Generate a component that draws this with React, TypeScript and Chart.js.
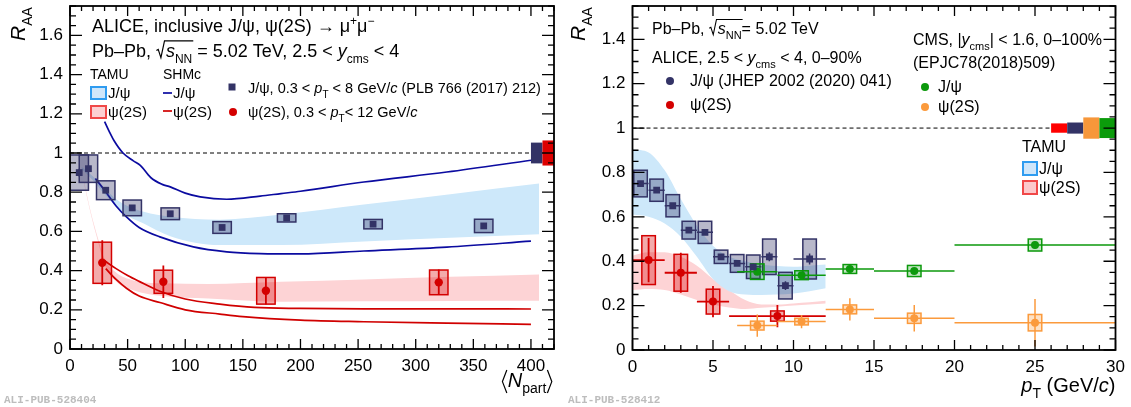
import { useEffect, useRef } from "react";
import { Chart, registerables } from "chart.js";

Chart.register(...registerables);

const FONT = '"Liberation Sans", Arial, Helvetica, sans-serif';
const MONO = '"Liberation Mono", "DejaVu Sans Mono", monospace';

// ================= Left panel: R_AA vs <N_part> =================
const npartTickLabels = [0, 50, 100, 150, 200, 250, 300, 350, 400];
const raaTickLabelsLeft = [0, 0.2, 0.4, 0.6, 0.8, 1, 1.2, 1.4, 1.6];

const jpsiNpart = [8, 16, 31, 54, 87, 132, 188, 263, 359];
const jpsiRaaNpart = [0.9, 0.92, 0.81, 0.72, 0.69, 0.62, 0.669, 0.637, 0.628];
const jpsiStatNpart = [0.02, 0.015, 0.012, 0.01, 0.01, 0.01, 0.008, 0.008, 0.008];
const jpsiSystNpart = [0.09, 0.07, 0.048, 0.04, 0.03, 0.03, 0.021, 0.024, 0.034];

const psiNpart = [28, 81, 170, 320];
const psiRaaNpart = [0.44, 0.343, 0.297, 0.34];
const psiStatNpart = [0.115, 0.083, 0.07, 0.065];
const psiSystNpart = [0.105, 0.059, 0.068, 0.063];

const shmJpsiHiNpart = [30, 34, 38, 46, 55, 61, 70, 80, 87, 100, 113, 136, 165, 183, 200, 255, 327, 400];
const shmJpsiHiRaa = [1.16, 1.11, 1.065, 1.0, 0.96, 0.937, 0.875, 0.84, 0.827, 0.795, 0.776, 0.764, 0.78, 0.793, 0.805, 0.852, 0.903, 0.963];
const shmJpsiLoNpart = [22, 30, 40, 49, 60, 78, 107, 136, 165, 200, 255, 327, 400];
const shmJpsiLoRaa = [0.87, 0.81, 0.73, 0.674, 0.62, 0.572, 0.521, 0.496, 0.487, 0.485, 0.5, 0.52, 0.55];
const shmPsiHiNpart = [30, 40, 50, 60, 78, 100, 130, 160, 200, 255, 327, 400];
const shmPsiHiRaa = [0.45, 0.41, 0.375, 0.345, 0.295, 0.255, 0.229, 0.212, 0.207, 0.205, 0.205, 0.204];
const shmPsiLoNpart = [31, 40, 49, 60, 78, 100, 130, 150, 200, 255, 327, 400];
const shmPsiLoRaa = [0.41, 0.355, 0.31, 0.27, 0.237, 0.2, 0.178, 0.165, 0.147, 0.139, 0.132, 0.126];

const tamuJpsiNpart = [10, 20, 30, 41, 50, 64, 87, 130, 183, 255, 330, 407];
const tamuJpsiHiNpart = [0.93, 0.88, 0.82, 0.76, 0.73, 0.7, 0.675, 0.66, 0.686, 0.737, 0.79, 0.844];
const tamuJpsiLoNpart = [0.92, 0.86, 0.79, 0.725, 0.68, 0.64, 0.575, 0.53, 0.53, 0.548, 0.567, 0.586];
const tamuPsiNpart = [12, 18, 24, 30, 40, 55, 80, 120, 183, 255, 330, 407];
const tamuPsiHiNpart = [0.86, 0.7, 0.57, 0.46, 0.39, 0.35, 0.335, 0.332, 0.343, 0.355, 0.368, 0.38];
const tamuPsiLoNpart = [0.85, 0.69, 0.555, 0.43, 0.345, 0.3, 0.27, 0.258, 0.241, 0.243, 0.245, 0.246];

const globalNpartLow = [400, 410];
const globalNpartHigh = [410, 420];
const globalUncNpart = [0.053, 0.064];

// ================= Right panel: R_AA vs pT =================
const ptTickLabels = [0, 5, 10, 15, 20, 25, 30];
const raaTickLabelsRight = [0, 0.2, 0.4, 0.6, 0.8, 1, 1.2, 1.4];

const aliJpsiPt = [0.5, 1.5, 2.5, 3.5, 4.5, 5.5, 6.5, 7.5, 8.5, 9.5, 11];
const aliJpsiPtLow = [0, 1, 2, 3, 4, 5, 6, 7, 8, 9, 10];
const aliJpsiPtHigh = [1, 2, 3, 4, 5, 6, 7, 8, 9, 10, 12];
const aliJpsiRaaPt = [0.75, 0.72, 0.65, 0.54, 0.53, 0.42, 0.39, 0.375, 0.42, 0.29, 0.41];
const aliJpsiStatPt = [0.012, 0.01, 0.01, 0.01, 0.01, 0.01, 0.012, 0.015, 0.02, 0.02, 0.025];
const aliJpsiSystPt = [0.06, 0.05, 0.05, 0.04, 0.05, 0.03, 0.04, 0.053, 0.08, 0.06, 0.09];

const aliPsiPt = [1, 3, 5, 9];
const aliPsiPtLow = [0, 2, 4, 6];
const aliPsiPtHigh = [2, 4, 6, 12];
const aliPsiRaaPt = [0.405, 0.348, 0.218, 0.153];
const aliPsiStatPt = [0.1, 0.09, 0.07, 0.05];
const aliPsiSystPt = [0.11, 0.083, 0.056, 0.023];

const cmsPt = [7.75, 10.5, 13.5, 17.5, 25];
const cmsPtLow = [6.5, 9, 12, 15, 20];
const cmsPtHigh = [9, 12, 15, 20, 30];
const cmsJpsiRaa = [0.353, 0.337, 0.365, 0.356, 0.473];
const cmsJpsiStat = [0.01, 0.01, 0.01, 0.01, 0.015];
const cmsJpsiSyst = [0.035, 0.02, 0.02, 0.025, 0.027];
const cmsPsiRaa = [0.11, 0.128, 0.183, 0.143, 0.123];
const cmsPsiStat = [0.05, 0.03, 0.05, 0.06, 0.107];
const cmsPsiSyst = [0.02, 0.015, 0.02, 0.023, 0.037];

const tamuPtGrid = [0, 1, 2, 3, 4, 5, 6, 7, 8, 9, 10, 11, 12];
const tamuJpsiHiPt = [0.905, 0.89, 0.81, 0.68, 0.56, 0.47, 0.42, 0.4, 0.385, 0.378, 0.375, 0.38, 0.385];
const tamuJpsiLoPt = [0.61, 0.6, 0.57, 0.51, 0.42, 0.32, 0.265, 0.25, 0.248, 0.25, 0.255, 0.265, 0.278];
const tamuPsiHiPt = [0.425, 0.44, 0.44, 0.42, 0.38, 0.32, 0.27, 0.225, 0.205, 0.205, 0.21, 0.215, 0.222];
const tamuPsiLoPt = [0.27, 0.275, 0.27, 0.25, 0.225, 0.205, 0.192, 0.185, 0.19, 0.195, 0.2, 0.205, 0.21];

const globalPtLow = [26, 27, 28, 29];
const globalPtHigh = [27, 28, 29, 30];
const globalUncPt = [0.021, 0.025, 0.048, 0.045];

// ================= Styles =================
const NAVY = "#333366";
const NAVY_FILL = "rgba(51,51,102,0.35)";
const RED = "#d40000";
const RED_FILL = "rgba(220,0,0,0.33)";
const SHM_BLUE = "#0b0ba0";
const SHM_RED = "#d00000";
const BAND_BLUE = "#cde8fa";
const BAND_PINK = "#fdd3d5";
const GREEN = "#0c990c";
const GREEN_FILL = "rgba(12,153,12,0.25)";
const ORANGE = "#fb9a3c";
const ORANGE_FILL = "rgba(251,154,60,0.3)";
const GLOBAL_COLORS_PT = ["#ff0000", NAVY, "#f7973a", "#0b9b0b"];
const GLOBAL_COLORS_NPART = [NAVY, "#dd0000"];

const BOX_HALF_NPART = 8;
const BOX_HALF_PT = 0.42;
const TICK_FONT = 17;

// ================= Helpers =================
type Seg = [string, string?];

function richLayout(ctx: CanvasRenderingContext2D, segs: Seg[], size: number) {
  let cx = 0;
  const items: any[] = [];
  for (const [t, f = ""] of segs) {
    if (f.includes("r")) {
      items.push({ kind: "root", x: cx });
      cx += size * 0.55;
      continue;
    }
    if (f.includes("L") || f.includes("R")) {
      items.push({ kind: f.includes("L") ? "lang" : "rang", x: cx });
      cx += size * 0.33;
      continue;
    }
    const small = f.includes("b") || f.includes("p");
    const s = small ? Math.round(size * 0.68) : size;
    const font = `${f.includes("i") ? "italic " : ""}${s}px ${FONT}`;
    ctx.font = font;
    const w = ctx.measureText(t).width;
    const dy = f.includes("b") ? size * 0.32 : f.includes("p") ? -size * 0.38 : 0;
    items.push({ kind: "text", t, font, x: cx, dy, w, over: f.includes("o") });
    cx += w;
  }
  return { items, width: cx };
}

function drawRich(
  ctx: CanvasRenderingContext2D,
  x: number,
  y: number,
  segs: Seg[],
  size: number,
  color = "#000",
  align: "left" | "right" = "left"
) {
  const { items, width } = richLayout(ctx, segs, size);
  const x0 = align === "right" ? x - width : x;
  ctx.save();
  ctx.fillStyle = color;
  ctx.strokeStyle = color;
  ctx.textBaseline = "alphabetic";
  ctx.textAlign = "left";
  let rootX: number | null = null;
  let overEnd: number | null = null;
  for (const it of items) {
    if (it.kind === "root") {
      rootX = x0 + it.x;
      continue;
    }
    if (it.kind === "lang" || it.kind === "rang") {
      const bx = x0 + it.x;
      const s = size;
      ctx.lineWidth = Math.max(1, s * 0.06);
      ctx.beginPath();
      if (it.kind === "lang") {
        ctx.moveTo(bx + s * 0.28, y - s * 0.85);
        ctx.lineTo(bx + s * 0.06, y - s * 0.27);
        ctx.lineTo(bx + s * 0.28, y + s * 0.3);
      } else {
        ctx.moveTo(bx + s * 0.05, y - s * 0.85);
        ctx.lineTo(bx + s * 0.27, y - s * 0.27);
        ctx.lineTo(bx + s * 0.05, y + s * 0.3);
      }
      ctx.stroke();
      continue;
    }
    ctx.font = it.font;
    ctx.fillText(it.t, x0 + it.x, y + it.dy);
    if (it.over) overEnd = x0 + it.x + it.w;
  }
  if (rootX !== null && overEnd !== null) {
    const s = size;
    const topY = y - s * 0.9;
    ctx.lineWidth = Math.max(1, s * 0.065);
    ctx.beginPath();
    ctx.moveTo(rootX + s * 0.02, y - s * 0.36);
    ctx.lineTo(rootX + s * 0.12, y - s * 0.42);
    ctx.lineTo(rootX + s * 0.27, y + s * 0.04);
    ctx.lineTo(rootX + s * 0.47, topY);
    ctx.lineTo(overEnd + 1, topY);
    ctx.stroke();
  }
  ctx.restore();
  return width;
}

function drawRotatedTitle(ctx: CanvasRenderingContext2D, bx: number, by: number) {
  ctx.save();
  ctx.translate(bx, by);
  ctx.rotate(-Math.PI / 2);
  drawRich(ctx, 0, 0, [["R", "i"], ["AA", "b"]], 21);
  ctx.restore();
}

function drawSquare(ctx: CanvasRenderingContext2D, x: number, y: number, h: number, c: string) {
  ctx.save();
  ctx.fillStyle = c;
  ctx.fillRect(x - h, y - h, 2 * h, 2 * h);
  ctx.restore();
}
function drawCircle(ctx: CanvasRenderingContext2D, x: number, y: number, r: number, c: string) {
  ctx.save();
  ctx.fillStyle = c;
  ctx.beginPath();
  ctx.arc(x, y, r, 0, Math.PI * 2);
  ctx.fill();
  ctx.restore();
}
function drawLegendBox(ctx: CanvasRenderingContext2D, x: number, y: number, w: number, h: number, fill: string, stroke: string) {
  ctx.save();
  ctx.fillStyle = fill;
  ctx.strokeStyle = stroke;
  ctx.lineWidth = 2;
  ctx.fillRect(x, y, w, h);
  ctx.strokeRect(x, y, w, h);
  ctx.restore();
}

function drawSystBoxes(chart: any, xs: number[], ys: number[], syst: number[], halfW: number, fill: string, stroke: string) {
  const sx = chart.scales.x;
  const sy = chart.scales.y;
  const ctx = chart.ctx as CanvasRenderingContext2D;
  ctx.save();
  ctx.fillStyle = fill;
  ctx.strokeStyle = stroke;
  ctx.lineWidth = 1.5;
  xs.forEach((x, i) => {
    const x0 = sx.getPixelForValue(Math.max(sx.min, x - halfW));
    const x1 = sx.getPixelForValue(x + halfW);
    const y0 = sy.getPixelForValue(ys[i] + syst[i]);
    const y1 = sy.getPixelForValue(ys[i] - syst[i]);
    ctx.fillRect(x0, y0, x1 - x0, y1 - y0);
    ctx.strokeRect(x0, y0, x1 - x0, y1 - y0);
  });
  ctx.restore();
}

function drawErrorBars(chart: any, xs: number[], ys: number[], stat: number[], color: string, lw: number, xlo?: number[], xhi?: number[]) {
  const sx = chart.scales.x;
  const sy = chart.scales.y;
  const ctx = chart.ctx as CanvasRenderingContext2D;
  ctx.save();
  ctx.strokeStyle = color;
  ctx.lineWidth = lw;
  ctx.beginPath();
  xs.forEach((x, i) => {
    const px = sx.getPixelForValue(x);
    ctx.moveTo(px, sy.getPixelForValue(ys[i] + stat[i]));
    ctx.lineTo(px, sy.getPixelForValue(Math.max(0, ys[i] - stat[i])));
    if (xlo && xhi) {
      const py = sy.getPixelForValue(ys[i]);
      ctx.moveTo(sx.getPixelForValue(xlo[i]), py);
      ctx.lineTo(sx.getPixelForValue(xhi[i]), py);
    }
  });
  ctx.stroke();
  ctx.restore();
}

function drawGlobalBoxes(chart: any, lo: number[], hi: number[], unc: number[], colors: string[]) {
  const sx = chart.scales.x;
  const sy = chart.scales.y;
  const ctx = chart.ctx as CanvasRenderingContext2D;
  ctx.save();
  lo.forEach((l, i) => {
    const x0 = sx.getPixelForValue(l);
    const x1 = sx.getPixelForValue(hi[i]);
    const y0 = sy.getPixelForValue(1 + unc[i]);
    const y1 = sy.getPixelForValue(1 - unc[i]);
    ctx.fillStyle = colors[i];
    ctx.fillRect(x0, y0, x1 - x0, y1 - y0);
  });
  ctx.restore();
}

function steps(from: number, to: number, step: number) {
  const out: number[] = [];
  const n = Math.round((to - from) / step);
  for (let i = 0; i <= n; i++) out.push(Math.round((from + i * step) * 1000) / 1000);
  return out;
}

function drawFrameTicks(chart: any, xMajor: number[], xMinor: number[], yMajor: number[], yMinor: number[]) {
  const ctx = chart.ctx as CanvasRenderingContext2D;
  const { left, right, top, bottom } = chart.chartArea;
  const sx = chart.scales.x;
  const sy = chart.scales.y;
  ctx.save();
  ctx.strokeStyle = "#000";
  ctx.lineWidth = 1.3;
  ctx.beginPath();
  for (const v of xMinor) {
    const p = sx.getPixelForValue(v);
    const L = xMajor.includes(v) ? 10 : 5;
    ctx.moveTo(p, bottom);
    ctx.lineTo(p, bottom - L);
    ctx.moveTo(p, top);
    ctx.lineTo(p, top + L);
  }
  for (const v of yMinor) {
    const p = sy.getPixelForValue(v);
    const L = yMajor.some((m) => Math.abs(m - v) < 1e-6) ? 12 : 6;
    ctx.moveTo(left, p);
    ctx.lineTo(left + L, p);
    ctx.moveTo(right, p);
    ctx.lineTo(right - L, p);
  }
  ctx.stroke();
  ctx.lineWidth = 1.8;
  ctx.strokeRect(left, top, right - left, bottom - top);
  ctx.restore();
}

function xy(xs: number[], ys: number[]) {
  return xs.map((x, i) => ({ x, y: ys[i] }));
}

function lineDs(xs: number[], ys: number[], color: string, extra: any = {}) {
  return {
    data: xy(xs, ys),
    borderColor: color,
    borderWidth: 1.7,
    pointRadius: 0,
    fill: false,
    cubicInterpolationMode: "monotone",
    order: 2,
    ...extra,
  };
}

function bandDs(xs: number[], hi: number[], lo: number[], color: string) {
  return [
    {
      data: xy(xs, hi),
      borderColor: "rgba(0,0,0,0)",
      borderWidth: 0,
      pointRadius: 0,
      backgroundColor: color,
      fill: "+1",
      cubicInterpolationMode: "monotone",
      order: 3,
    },
    {
      data: xy(xs, lo),
      borderColor: "rgba(0,0,0,0)",
      borderWidth: 0,
      pointRadius: 0,
      fill: false,
      cubicInterpolationMode: "monotone",
      order: 3,
    },
  ];
}

function markerDs(xs: number[], ys: number[], style: string, r: number, color: string) {
  return {
    data: xy(xs, ys),
    showLine: false,
    pointStyle: style,
    pointRadius: r,
    pointBackgroundColor: color,
    pointBorderColor: color,
    pointBorderWidth: 0,
    order: 0,
    isMarker: true,
  };
}

function makeScales(
  xMax: number,
  yMax: number,
  xTicks: number[],
  yTicks: number[],
  yWidth: number,
  xHeight: number
) {
  return {
    x: {
      type: "linear",
      min: 0,
      max: xMax,
      afterBuildTicks: (s: any) => {
        s.ticks = xTicks.map((v) => ({ value: v }));
      },
      ticks: {
        color: "#000",
        font: { family: FONT, size: TICK_FONT },
        padding: 7,
        autoSkip: false,
        maxRotation: 0,
        minRotation: 0,
        callback: (v: any) => String(Number(v)),
      },
      grid: { display: false, drawTicks: false },
      border: { display: false },
      afterFit: (s: any) => {
        s.height = xHeight;
        s.paddingLeft = 0;
        s.paddingRight = 0;
      },
    },
    y: {
      type: "linear",
      min: 0,
      max: yMax,
      afterBuildTicks: (s: any) => {
        s.ticks = yTicks.map((v) => ({ value: v }));
      },
      ticks: {
        color: "#000",
        font: { family: FONT, size: TICK_FONT },
        padding: 7,
        autoSkip: false,
        callback: (v: any) => String(Number(v)),
      },
      grid: { display: false, drawTicks: false },
      border: { display: false },
      afterFit: (s: any) => {
        s.width = yWidth;
        s.paddingTop = 0;
        s.paddingBottom = 0;
      },
    },
  };
}

function markerPlugin(id: string, under: (c: any) => void, over: (c: any) => void) {
  let done = false;
  return {
    id,
    beforeDatasetsDraw() {
      done = false;
    },
    beforeDatasetDraw(chart: any, args: any) {
      const ds = chart.data.datasets[args.index];
      if (!done && ds.isMarker) {
        done = true;
        const { left, right, top, bottom } = chart.chartArea;
        chart.ctx.save();
        chart.ctx.beginPath();
        chart.ctx.rect(left, top, right - left, bottom - top);
        chart.ctx.clip();
        under(chart);
        chart.ctx.restore();
      }
    },
    afterDraw(chart: any) {
      over(chart);
    },
  };
}

// ================= Left chart =================
function leftConfig(): any {
  const under = (chart: any) => {
    drawGlobalBoxes(chart, globalNpartLow, globalNpartHigh, globalUncNpart, GLOBAL_COLORS_NPART);
    drawErrorBars(chart, jpsiNpart, jpsiRaaNpart, jpsiStatNpart, NAVY, 1.5);
    drawSystBoxes(chart, jpsiNpart, jpsiRaaNpart, jpsiSystNpart, BOX_HALF_NPART, NAVY_FILL, NAVY);
    drawSystBoxes(chart, psiNpart, psiRaaNpart, psiSystNpart, BOX_HALF_NPART, RED_FILL, RED);
    drawErrorBars(chart, psiNpart, psiRaaNpart, psiStatNpart, RED, 1.8);
  };
  const over = (chart: any) => {
    const ctx = chart.ctx as CanvasRenderingContext2D;
    drawFrameTicks(chart, npartTickLabels, steps(0, 420, 10), raaTickLabelsLeft, steps(0, 1.75, 0.05));
    drawRotatedTitle(ctx, 25, 41);
    drawRich(ctx, 553, 387, [["⟨", "L"], ["N", "i"], ["part", "b"], ["⟩", "R"]], 20, "#000", "right");
    drawRich(ctx, 92, 32, [["ALICE, inclusive J/ψ, ψ(2S) → μ"], ["+", "p"], ["μ"], ["−", "p"]], 18);
    drawRich(
      ctx,
      92,
      57,
      [["Pb–Pb, "], ["√", "r"], ["s", "io"], ["NN", "bo"], [" = 5.02 TeV, 2.5 < "], ["y", "i"], ["cms", "b"], [" < 4"]],
      18
    );
    drawRich(ctx, 90, 79, [["TAMU"]], 14);
    drawRich(ctx, 163, 79, [["SHMc"]], 14);
    drawLegendBox(ctx, 91, 87, 15, 12, "#cfe6fa", "#2f9cf0");
    drawLegendBox(ctx, 91, 106, 15, 12, "#fcd0d2", "#f04848");
    drawRich(ctx, 108, 98, [["J/ψ"]], 15);
    drawRich(ctx, 108, 117, [["ψ(2S)"]], 15);
    ctx.save();
    ctx.lineWidth = 1.7;
    ctx.strokeStyle = SHM_BLUE;
    ctx.beginPath();
    ctx.moveTo(163, 93);
    ctx.lineTo(172, 93);
    ctx.stroke();
    ctx.strokeStyle = SHM_RED;
    ctx.beginPath();
    ctx.moveTo(163, 111);
    ctx.lineTo(172, 111);
    ctx.stroke();
    ctx.restore();
    drawRich(ctx, 173, 98, [["J/ψ"]], 15);
    drawRich(ctx, 173, 117, [["ψ(2S)"]], 15);
    drawSquare(ctx, 232, 87, 3.5, NAVY);
    drawCircle(ctx, 233, 112, 4, RED);
    drawRich(
      ctx,
      248,
      93,
      [["J/ψ, 0.3 < "], ["p", "i"], ["T", "b"], [" < 8 GeV/"], ["c", "i"], [" (PLB 766 (2017) 212)"]],
      14.5
    );
    drawRich(ctx, 248, 117, [["ψ(2S), 0.3 < "], ["p", "i"], ["T", "b"], ["< 12 GeV/"], ["c", "i"]], 14.5);
    ctx.save();
    ctx.font = `bold 11px ${MONO}`;
    ctx.fillStyle = "#bdbdbd";
    ctx.fillText("ALI-PUB-528404", 4, 403);
    ctx.restore();
  };
  return {
    type: "line",
    data: {
      datasets: [
        ...bandDs(tamuJpsiNpart, tamuJpsiHiNpart, tamuJpsiLoNpart, BAND_BLUE),
        ...bandDs(tamuPsiNpart, tamuPsiHiNpart, tamuPsiLoNpart, BAND_PINK),
        lineDs(shmJpsiHiNpart, shmJpsiHiRaa, SHM_BLUE),
        lineDs(shmJpsiLoNpart, shmJpsiLoRaa, SHM_BLUE),
        lineDs(shmPsiHiNpart, shmPsiHiRaa, SHM_RED),
        lineDs(shmPsiLoNpart, shmPsiLoRaa, SHM_RED),
        lineDs([0, 400], [1, 1], "#000", { borderWidth: 1, borderDash: [4, 3], cubicInterpolationMode: "default" }),
        markerDs(jpsiNpart, jpsiRaaNpart, "rect", 4.8, NAVY),
        markerDs(psiNpart, psiRaaNpart, "circle", 4.2, RED),
      ],
    },
    options: {
      animation: false,
      responsive: false,
      events: [],
      layout: { padding: { left: 0, right: 11, top: 6, bottom: 0 } },
      plugins: { legend: { display: false }, tooltip: { enabled: false } },
      scales: makeScales(420, 1.75, npartTickLabels, raaTickLabelsLeft, 70, 58),
    },
    plugins: [markerPlugin("leftExtras", under, over)],
  };
}

// ================= Right chart =================
function rightConfig(): any {
  const under = (chart: any) => {
    drawGlobalBoxes(chart, globalPtLow, globalPtHigh, globalUncPt, GLOBAL_COLORS_PT);
    drawSystBoxes(chart, aliJpsiPt, aliJpsiRaaPt, aliJpsiSystPt, BOX_HALF_PT, NAVY_FILL, NAVY);
    drawErrorBars(chart, aliJpsiPt, aliJpsiRaaPt, aliJpsiStatPt, NAVY, 1.5, aliJpsiPtLow, aliJpsiPtHigh);
    drawSystBoxes(chart, aliPsiPt, aliPsiRaaPt, aliPsiSystPt, BOX_HALF_PT, RED_FILL, RED);
    drawErrorBars(chart, aliPsiPt, aliPsiRaaPt, aliPsiStatPt, RED, 1.8, aliPsiPtLow, aliPsiPtHigh);
    drawSystBoxes(chart, cmsPt, cmsJpsiRaa, cmsJpsiSyst, BOX_HALF_PT, GREEN_FILL, GREEN);
    drawErrorBars(chart, cmsPt, cmsJpsiRaa, cmsJpsiStat, GREEN, 1.5, cmsPtLow, cmsPtHigh);
    drawSystBoxes(chart, cmsPt, cmsPsiRaa, cmsPsiSyst, BOX_HALF_PT, ORANGE_FILL, ORANGE);
    drawErrorBars(chart, cmsPt, cmsPsiRaa, cmsPsiStat, ORANGE, 1.5, cmsPtLow, cmsPtHigh);
  };
  const over = (chart: any) => {
    const ctx = chart.ctx as CanvasRenderingContext2D;
    drawFrameTicks(chart, ptTickLabels, steps(0, 30, 1), raaTickLabelsRight, steps(0, 1.55, 0.05));
    drawRotatedTitle(ctx, 20, 41);
    drawRich(ctx, 550.5, 392, [["p", "i"], ["T", "b"], [" (GeV/"], ["c", "i"], [")"]], 20, "#000", "right");
    drawRich(ctx, 87, 34, [["Pb–Pb, "], ["√", "r"], ["s", "io"], ["NN", "bo"], ["= 5.02 TeV"]], 16);
    drawRich(ctx, 87, 63, [["ALICE, 2.5 < "], ["y", "i"], ["cms", "b"], [" < 4, 0–90%"]], 16);
    drawCircle(ctx, 105, 81, 4, NAVY);
    drawRich(ctx, 125, 86, [["J/ψ (JHEP 2002 (2020) 041)"]], 16);
    drawCircle(ctx, 105, 105, 4, RED);
    drawRich(ctx, 125, 110, [["ψ(2S)"]], 16);
    drawRich(ctx, 348, 45, [["CMS, |"], ["y", "i"], ["cms", "b"], ["| < 1.6, 0–100%"]], 16);
    drawRich(ctx, 348, 68, [["(EPJC78(2018)509)"]], 16);
    drawCircle(ctx, 360, 87, 4, GREEN);
    drawRich(ctx, 373, 92, [["J/ψ"]], 16);
    drawCircle(ctx, 360, 107, 4, ORANGE);
    drawRich(ctx, 373, 112, [["ψ(2S)"]], 16);
    drawRich(ctx, 457, 152, [["TAMU"]], 16);
    drawLegendBox(ctx, 458, 162, 14, 13, "#cfe6fa", "#2f9cf0");
    drawLegendBox(ctx, 458, 181, 14, 13, "#fcc8cb", "#f04848");
    drawRich(ctx, 474, 174, [["J/ψ"]], 16);
    drawRich(ctx, 474, 193, [["ψ(2S)"]], 16);
    ctx.save();
    ctx.font = `bold 11px ${MONO}`;
    ctx.fillStyle = "#bdbdbd";
    ctx.fillText("ALI-PUB-528412", 3, 403);
    ctx.restore();
  };
  return {
    type: "line",
    data: {
      datasets: [
        ...bandDs(tamuPtGrid, tamuJpsiHiPt, tamuJpsiLoPt, BAND_BLUE),
        ...bandDs(tamuPtGrid, tamuPsiHiPt, tamuPsiLoPt, BAND_PINK),
        lineDs([0, 26], [1, 1], "#000", { borderWidth: 1, borderDash: [4, 3], cubicInterpolationMode: "default" }),
        markerDs(aliJpsiPt, aliJpsiRaaPt, "rect", 4.8, NAVY),
        markerDs(aliPsiPt, aliPsiRaaPt, "circle", 4, RED),
        markerDs(cmsPt, cmsJpsiRaa, "circle", 4, GREEN),
        markerDs(cmsPt, cmsPsiRaa, "circle", 4, ORANGE),
      ],
    },
    options: {
      animation: false,
      responsive: false,
      events: [],
      layout: { padding: { left: 0, right: 15.5, top: 6, bottom: 0 } },
      plugins: { legend: { display: false }, tooltip: { enabled: false } },
      scales: makeScales(30, 1.55, ptTickLabels, raaTickLabelsRight, 67.5, 57),
    },
    plugins: [markerPlugin("rightExtras", under, over)],
  };
}

export default function App() {
  const leftRef = useRef<HTMLCanvasElement>(null);
  const rightRef = useRef<HTMLCanvasElement>(null);
  useEffect(() => {
    const c1 = new Chart(leftRef.current as HTMLCanvasElement, leftConfig());
    const c2 = new Chart(rightRef.current as HTMLCanvasElement, rightConfig());
    return () => {
      c1.destroy();
      c2.destroy();
    };
  }, []);
  return (
    <div style={{ position: "fixed", left: 0, top: 0, width: 1131, height: 407, background: "#fff" }}>
      <canvas
        ref={leftRef}
        width={565}
        height={407}
        style={{ position: "absolute", left: 0, top: 0, width: 565, height: 407 }}
      />
      <canvas
        ref={rightRef}
        width={566}
        height={407}
        style={{ position: "absolute", left: 565, top: 0, width: 566, height: 407 }}
      />
    </div>
  );
}
